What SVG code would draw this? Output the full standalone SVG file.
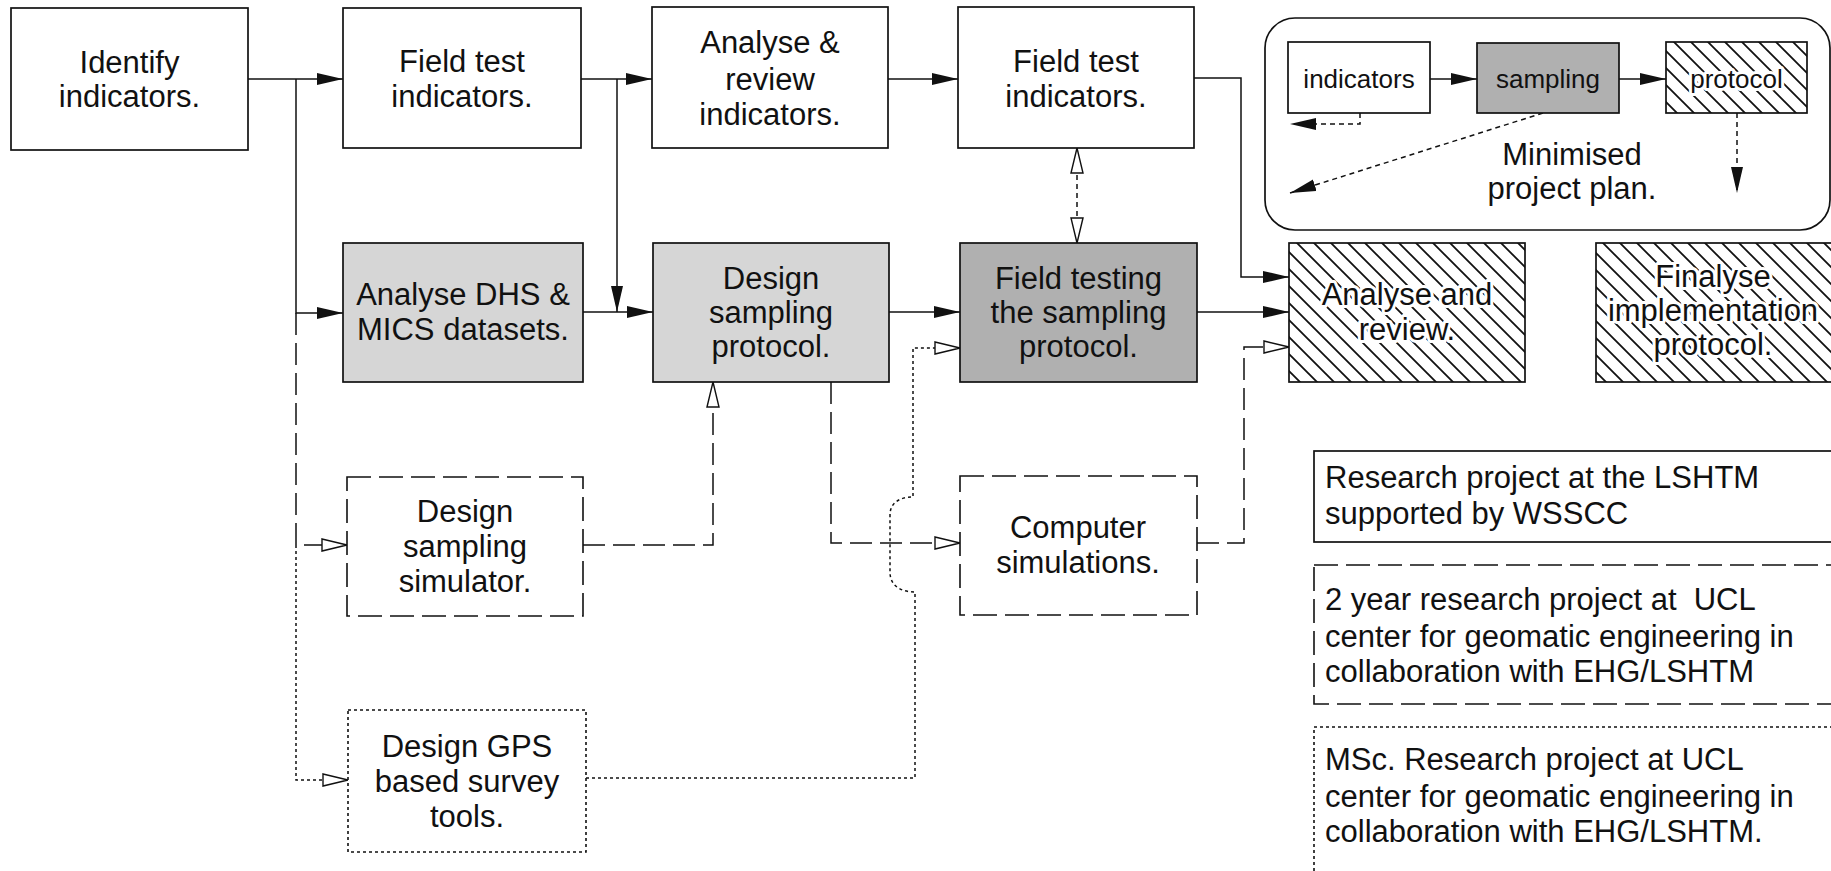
<svg xmlns="http://www.w3.org/2000/svg" width="1831" height="871" viewBox="0 0 1831 871">
<style>
text{font-family:"Liberation Sans",Arial,Helvetica,sans-serif;font-size:31px;fill:#111;text-anchor:middle}
.small{font-size:26px}
.leg{text-anchor:start}
.box{fill:#fff;stroke:#111;stroke-width:1.7}
.dashbox{fill:#fff;stroke:#111;stroke-width:1.6;stroke-dasharray:24 8}
.dotbox{fill:#fff;stroke:#111;stroke-width:1.6;stroke-dasharray:3 3}
.stipL{fill:#d6d6d6;stroke:#111;stroke-width:1.7}
.stipD{fill:#b0b0b0;stroke:#111;stroke-width:1.7}
.hatch{fill:url(#hatch);stroke:#111;stroke-width:1.7}
.ko{stroke:#fff;stroke-width:6;stroke-linejoin:round;paint-order:stroke}
.c{fill:none;stroke:#111;stroke-width:1.5}
.cd{stroke-dasharray:22 8}
.co{stroke-dasharray:3 3}
.cs{stroke-dasharray:5 4}
</style>
<defs>
<marker id="af" viewBox="0 0 26 13" refX="26" refY="6.5" markerWidth="26" markerHeight="13" markerUnits="userSpaceOnUse" orient="auto">
<path d="M0,0.5 L26,6.5 L0,12.5 Z" fill="#111"/>
</marker>
<marker id="ah" viewBox="-1 -1 27 15" refX="25" refY="6.5" markerWidth="27" markerHeight="15" markerUnits="userSpaceOnUse" orient="auto-start-reverse">
<path d="M0,0.5 L25,6.5 L0,12.5 Z" fill="#fff" stroke="#111" stroke-width="1.4"/>
</marker>
<pattern id="hatch" patternUnits="userSpaceOnUse" width="17" height="17">
<rect width="17" height="17" fill="#fff"/>
<path d="M-4,-4 L21,21 M-4,13 L4,21 M13,-4 L21,4" stroke="#111" stroke-width="1.8"/>
</pattern>
</defs>

<g id="connectors">
<path class="c" d="M248,79 H343" marker-end="url(#af)"/>
<path class="c" d="M296,79 V313 H343" marker-end="url(#af)"/>
<path class="c cd" d="M296,313 V545 H347" marker-end="url(#ah)"/>
<path class="c co" d="M296,545 V780 H348" marker-end="url(#ah)"/>
<path class="c" d="M581,79 H652" marker-end="url(#af)"/>
<path class="c" d="M617,79 V312" marker-end="url(#af)"/>
<path class="c" d="M583,312 H653" marker-end="url(#af)"/>
<path class="c" d="M889,312 H960" marker-end="url(#af)"/>
<path class="c" d="M888,79 H958" marker-end="url(#af)"/>
<path class="c" d="M1194,78 H1241 V277 H1289" marker-end="url(#af)"/>
<path class="c" d="M1197,312 H1289" marker-end="url(#af)"/>
<path class="c cs" d="M1077,148 V243" marker-start="url(#ah)" marker-end="url(#ah)"/>
<path class="c cd" d="M583,545 H713 V382" marker-end="url(#ah)"/>
<path class="c cd" d="M831,382 V543 H960" marker-end="url(#ah)"/>
<path class="c cd" d="M1197,543 H1244 V347 H1289" marker-end="url(#ah)"/>
<path class="c co" d="M586,778 H915 V592 C904,592 890,588 890,572 V515 C890,500 904,497 913,497 V348 H960" marker-end="url(#ah)"/>
<path class="c" d="M1430,79 H1477" marker-end="url(#af)"/>
<path class="c" d="M1619,79 H1666" marker-end="url(#af)"/>
<path class="c cs" d="M1360,113 V124 H1290" marker-end="url(#af)"/>
<path class="c cs" d="M1543,113 L1290,193" marker-end="url(#af)"/>
<path class="c cs" d="M1737,113 V193" marker-end="url(#af)"/>
</g>

<g id="identify">
<rect class="box" x="11" y="8" width="237" height="142"/>
<text x="129.5" y="73">Identify</text>
<text x="129.5" y="107">indicators.</text>
</g>
<g id="fieldtest1">
<rect class="box" x="343" y="8" width="238" height="140"/>
<text x="462" y="72">Field test</text>
<text x="462" y="107">indicators.</text>
</g>
<g id="analysereview">
<rect class="box" x="652" y="7" width="236" height="141"/>
<text x="770" y="53">Analyse &amp;</text>
<text x="770" y="90">review</text>
<text x="770" y="125">indicators.</text>
</g>
<g id="fieldtest2">
<rect class="box" x="958" y="7" width="236" height="141"/>
<text x="1076" y="72">Field test</text>
<text x="1076" y="107">indicators.</text>
</g>
<g id="analysedhs">
<rect class="stipL" x="343" y="243" width="240" height="139"/>
<text x="463" y="305">Analyse DHS &amp;</text>
<text x="463" y="340">MICS datasets.</text>
</g>
<g id="designsampling">
<rect class="stipL" x="653" y="243" width="236" height="139"/>
<text x="771" y="289">Design</text>
<text x="771" y="323">sampling</text>
<text x="771" y="357">protocol.</text>
</g>
<g id="fieldtesting">
<rect class="stipD" x="960" y="243" width="237" height="139"/>
<text x="1078.5" y="289">Field testing</text>
<text x="1078.5" y="323">the sampling</text>
<text x="1078.5" y="357">protocol.</text>
</g>
<g id="analyseandreview">
<rect class="hatch" x="1289" y="243" width="236" height="139"/>
<text class="ko" x="1407" y="305">Analyse and</text>
<text class="ko" x="1407" y="340">review.</text>
</g>
<g id="finalyse">
<rect class="hatch" x="1596" y="243" width="240" height="139"/>
<text class="ko" x="1713" y="287">Finalyse</text>
<text class="ko" x="1713" y="321">implementation</text>
<text class="ko" x="1713" y="355">protocol.</text>
</g>
<g id="simulator">
<rect class="dashbox" x="347" y="477" width="236" height="139"/>
<text x="465" y="522">Design</text>
<text x="465" y="557">sampling</text>
<text x="465" y="592">simulator.</text>
</g>
<g id="computersims">
<rect class="dashbox" x="960" y="476" width="237" height="139"/>
<text x="1078" y="538">Computer</text>
<text x="1078" y="573">simulations.</text>
</g>
<g id="gps">
<rect class="dotbox" x="348" y="710" width="238" height="142"/>
<text x="467" y="757">Design GPS</text>
<text x="467" y="792">based survey</text>
<text x="467" y="827">tools.</text>
</g>

<g id="minimisedplan">
<rect fill="none" stroke="#111" stroke-width="1.7" x="1265" y="18" width="565" height="212" rx="30" ry="30"/>
<text x="1572" y="165">Minimised</text>
<text x="1572" y="199">project plan.</text>
</g>
<g id="mini-indicators">
<rect class="box" x="1288" y="42" width="142" height="71"/>
<text class="small" x="1359" y="88">indicators</text>
</g>
<g id="mini-sampling">
<rect class="stipD" x="1477" y="43" width="142" height="70"/>
<text class="small" x="1548" y="88">sampling</text>
</g>
<g id="mini-protocol">
<rect class="hatch" x="1666" y="42" width="141" height="71"/>
<text class="small ko" x="1736.5" y="88">protocol</text>
</g>

<g id="legend-lshtm">
<rect class="box" x="1314" y="451" width="530" height="91"/>
<text class="leg" x="1325" y="488">Research project at the LSHTM</text>
<text class="leg" x="1325" y="524">supported by WSSCC</text>
</g>
<g id="legend-ucl2">
<rect class="dashbox" x="1314" y="565" width="530" height="139"/>
<text class="leg" x="1325" y="610" xml:space="preserve">2 year research project at  UCL</text>
<text class="leg" x="1325" y="647">center for geomatic engineering in</text>
<text class="leg" x="1325" y="682">collaboration with EHG/LSHTM</text>
</g>
<g id="legend-msc">
<rect class="dotbox" x="1314" y="727" width="530" height="160"/>
<text class="leg" x="1325" y="770">MSc. Research project at UCL</text>
<text class="leg" x="1325" y="807">center for geomatic engineering in</text>
<text class="leg" x="1325" y="842">collaboration with EHG/LSHTM.</text>
</g>
</svg>
